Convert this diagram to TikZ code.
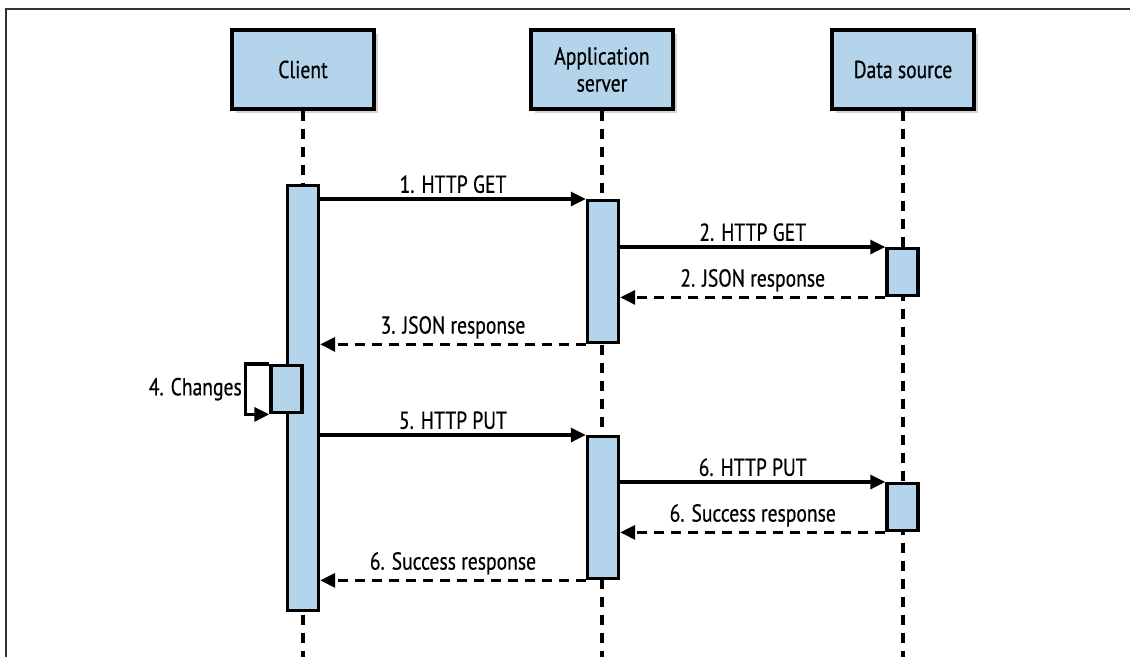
\documentclass[tikz,border=0pt]{standalone}
\usepackage{fontspec}
\setmainfont{PT Sans}[FakeStretch=0.8, FakeBold=0.5]
\usetikzlibrary{arrows.meta, shadows, positioning}

\definecolor{lblue}{RGB}{179,212,234}

\tikzset{
  actor/.style={draw, line width=3.4pt, fill=lblue, minimum width=142pt, minimum height=79pt,
    align=center, font=\fontsize{24.5}{27}\selectfont,
    drop shadow={shadow xshift=4pt, shadow yshift=-4pt, opacity=0.35}},
  bar/.style={draw, line width=3.4pt, fill=lblue, minimum width=31pt, inner sep=0pt, anchor=north},
  lifeline/.style={line width=3.4pt, dash pattern=on 10pt off 8pt},
  msg/.style={line width=3.2pt, -{Triangle[length=15pt,width=14pt]}},
  reply/.style={msg, dash pattern=on 10pt off 7pt},
  lbl/.style={midway, above=1pt, font=\fontsize{24.5}{27}\selectfont},
}

\begin{document}
\begin{tikzpicture}[x=1pt, y=-1pt]
\useasboundingbox (0,0) rectangle (1130,657);
% marco
\draw[line width=2pt, black!80] (1130,9) -- (6,9) -- (6,657);

% cabeceras
\node[actor] (client) at (303,69.5) {Client};
\node[actor] (app) at (602,69.5) {Application\\server};
\node[actor] (data) at (903,69.5) {Data source};

% lineas de vida
\coordinate (clientend) at (303,657);
\coordinate (append) at (602,657);
\coordinate (dataend) at (903,657);
\draw[lifeline] (client.south) -- (clientend);
\draw[lifeline] (app.south) -- (append);
\draw[lifeline] (data.south) -- (dataend);

% barras de activacion
\node[bar, minimum height=425pt] (cbar) at (303,184) {};
\node[bar, minimum height=142pt] (abar1) at (603,199) {};
\node[bar, minimum height=47pt] (dbar1) at (902.5,247) {};
\node[bar, minimum height=47pt] (chg) at (286.5,364) {};
\node[bar, minimum height=142pt] (abar2) at (603,435) {};
\node[bar, minimum height=47pt] (dbar2) at (902.5,482) {};

% mensajes
\draw[msg] (cbar.east |- abar1.north) -- (abar1.north west) node[lbl] {1. HTTP GET};
\draw[msg] (abar1.east |- dbar1.north) -- (dbar1.north west) node[lbl] {2. HTTP GET};
\draw[reply] (dbar1.south west) -- (abar1.east |- dbar1.south) node[lbl] {2. JSON response};
\draw[reply] (abar1.south west) -- (cbar.east |- abar1.south) node[lbl] {3. JSON response};

% 4: auto-mensaje
\draw[msg] (chg.north west) -- ++(-24,0) |- (chg.south west);
\node[left=24pt of chg.west, font=\fontsize{24.5}{27}\selectfont] (chglbl) {4. Changes};

\draw[msg] (cbar.east |- abar2.north) -- (abar2.north west) node[lbl] {5. HTTP PUT};
\draw[msg] (abar2.east |- dbar2.north) -- (dbar2.north west) node[lbl] {6. HTTP PUT};
\draw[reply] (dbar2.south west) -- (abar2.east |- dbar2.south) node[lbl] {6. Success response};
\draw[reply] (abar2.south west) -- (cbar.east |- abar2.south) node[lbl] {6. Success response};
\end{tikzpicture}
\end{document}
